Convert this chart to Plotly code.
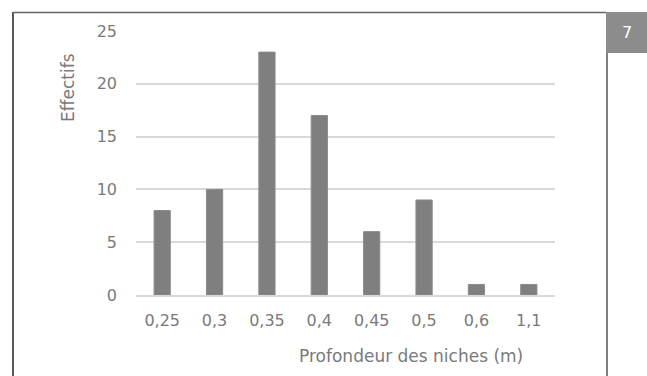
import plotly.graph_objects as go

# Depth of the niches (m) and counts
profondeurs = ["0,25", "0,3", "0,35", "0,4", "0,45", "0,5", "0,6", "1,1"]
effectifs = [8, 10, 23, 17, 6, 9, 1, 1]
y_ticks = [0, 5, 10, 15, 20, 25]

W, H = 647, 376


def px(x):
    return x / W


def py(y):
    return 1 - y / H


FONT = "DejaVu Sans"
TXT = "#7a7a7a"

fig = go.Figure(
    go.Bar(
        x=profondeurs,
        y=effectifs,
        marker=dict(color="#7f7f7f", line=dict(color="#8c8c8c", width=1)),
        width=0.31,
    )
)

fig.update_layout(
    width=W,
    height=H,
    autosize=False,
    margin=dict(l=0, r=0, t=0, b=0, pad=0, autoexpand=False),
    paper_bgcolor="white",
    plot_bgcolor="white",
    showlegend=False,
    font=dict(family=FONT, size=16, color=TXT),
    xaxis=dict(
        domain=[px(136), px(555)],
        type="category",
        automargin=False,
        showgrid=False,
        showline=True,
        linecolor="#d9d9d9",
        linewidth=1.5,
        ticks="",
        tickfont=dict(family=FONT, size=16, color=TXT),
        ticklabelstandoff=10,
    ),
    yaxis=dict(
        domain=[py(295), py(31)],
        range=[0, 25],
        automargin=False,
        tickvals=y_ticks,
        showgrid=True,
        gridcolor="#d9d9d9",
        gridwidth=1.5,
        zeroline=False,
        showline=False,
        ticks="",
        tickfont=dict(family=FONT, size=16, color=TXT),
        ticklabelstandoff=18,
    ),
)

# Axis titles
fig.add_annotation(
    text="Effectifs", xref="paper", yref="paper", x=px(68), y=py(88),
    xanchor="center", yanchor="middle",
    textangle=-90, showarrow=False, font=dict(family=FONT, size=17, color=TXT),
)
fig.add_annotation(
    text="Profondeur des niches (m)", xref="paper", yref="paper",
    x=px(411), y=py(356), xanchor="center", yanchor="middle", showarrow=False,
    font=dict(family=FONT, size=17, color=TXT),
)

# Page frame
fig.add_shape(type="line", xref="paper", yref="paper",
              x0=px(13), x1=px(13), y0=py(12), y1=0,
              line=dict(color="#222222", width=1.5))
fig.add_shape(type="line", xref="paper", yref="paper",
              x0=px(13), x1=px(606), y0=py(12.5), y1=py(12.5),
              line=dict(color="#666666", width=1.5))
fig.add_shape(type="line", xref="paper", yref="paper",
              x0=px(607), x1=px(607), y0=py(53), y1=0,
              line=dict(color="#808080", width=2))

# Number tab
fig.add_shape(type="rect", xref="paper", yref="paper",
              x0=px(606), x1=1, y0=py(53), y1=py(12),
              fillcolor="#8c8c8c", line=dict(width=0))
fig.add_annotation(
    text="7", xref="paper", yref="paper", x=px(626.5), y=py(33),
    xanchor="center", yanchor="middle",
    showarrow=False, font=dict(family=FONT, size=16, color="white"),
)

fig.write_html("out.html")
